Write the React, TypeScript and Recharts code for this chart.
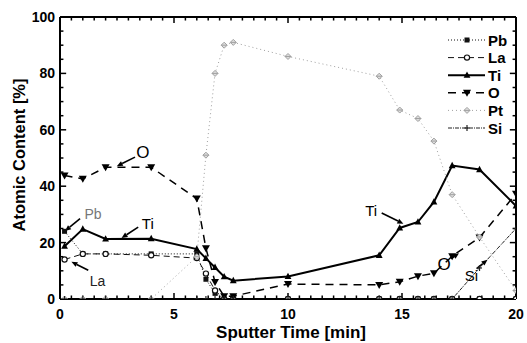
import {
  Label,
  Legend,
  Line,
  LineChart,
  ReferenceDot,
  ReferenceLine,
  XAxis,
  YAxis,
} from "recharts";

// sputter time [min] for every measured point
const TIME = [0.2, 1, 2, 4, 6, 6.4, 6.8, 7.2, 7.6, 10, 14, 14.9, 15.7, 16.4, 17.2, 18.4, 20];

// atomic content [%]
const PB = [24, 16, 16, 16, 16, 7, 2, 0, 0, 0, 0, 0, 0, 0, 0, 0, 0];
const LA = [14, 16, 16, 15.5, 14.5, 9, 3, 0, 0, 0, 0, 0, 0, 0, 0, 0, 0];
const TI = [18.7, 24.8, 21.3, 21.4, 17.7, 14.4, 11.2, 7.9, 6.5, 8, 15.5, 25.2, 27.3, 34.4, 47.3, 45.9, 33];
const OX = [43.8, 42.6, 46.7, 46.7, 35.6, 18, 6, 1, 1, 5.3, 5, 6.1, 8.1, 9.1, 15.2, 21.8, 37.3];
const PT = [0, 0, 0, 0, 15, 51, 80, 90, 91, 86, 79, 67, 64, 56, 37, 22, 3];
const SI = [0, 0, 0, 0, 0, 0, 0, 0, 0, 0, 0, 0, 0, 0, 0, 11, 25];

const X_MAJOR = [0, 5, 10, 15, 20];
const Y_MAJOR = [0, 20, 40, 60, 80, 100];
const X_MINOR = Array.from({ length: 41 }, (_, i) => i * 0.5);
const Y_MINOR = Array.from({ length: 21 }, (_, i) => i * 5);

// tick lengths in data units (about 6px / 3.5px on this plot)
const XT_MAJOR = 2.1;
const XT_MINOR = 1.25;
const YT_MAJOR = 0.27;
const YT_MINOR = 0.15;

const FONT = "'Liberation Sans', Arial, sans-serif";

const rows = (vals: number[]) => TIME.map((t, i) => ({ t, v: vals[i] }));

type Shape = "square" | "circle" | "up" | "down" | "diamond" | "plus";

const SERIES: {
  name: string;
  vals: number[];
  color: string;
  width: number;
  dash?: string;
  shape: Shape;
}[] = [
  { name: "Pb", vals: PB, color: "#111", width: 1, dash: "1 2", shape: "square" },
  { name: "La", vals: LA, color: "#111", width: 1, dash: "6 4", shape: "circle" },
  { name: "Ti", vals: TI, color: "#000", width: 2, shape: "up" },
  { name: "O", vals: OX, color: "#000", width: 1.5, dash: "8 6", shape: "down" },
  { name: "Pt", vals: PT, color: "#a0a0a0", width: 1, dash: "1 3", shape: "diamond" },
  { name: "Si", vals: SI, color: "#222", width: 1, dash: "4 1 1 1", shape: "plus" },
];

function Marker({ cx, cy, shape, color }: { cx: number; cy: number; shape: Shape; color: string }) {
  if (cx == null || cy == null) return null;
  switch (shape) {
    case "square":
      return <rect x={cx - 2.5} y={cy - 2.5} width={5} height={5} fill={color} />;
    case "circle":
      return <circle cx={cx} cy={cy} r={2.6} fill="#fff" stroke={color} strokeWidth={1.2} />;
    case "up":
      return <polygon points={`${cx},${cy - 3.8} ${cx - 3.4},${cy + 2.6} ${cx + 3.4},${cy + 2.6}`} fill={color} />;
    case "down":
      return <polygon points={`${cx},${cy + 4} ${cx - 4},${cy - 3} ${cx + 4},${cy - 3}`} fill={color} />;
    case "diamond":
      return (
        <g stroke={color} strokeWidth={1}>
          <polygon points={`${cx},${cy - 3} ${cx + 3},${cy} ${cx},${cy + 3} ${cx - 3},${cy}`} fill="#ddd" />
          <line x1={cx - 3} y1={cy} x2={cx + 3} y2={cy} />
        </g>
      );
    default:
      return (
        <g stroke={color} strokeWidth={1.2}>
          <line x1={cx - 2.5} y1={cy} x2={cx + 2.5} y2={cy} />
          <line x1={cx} y1={cy - 3} x2={cx} y2={cy + 3} />
        </g>
      );
  }
}

const makeLabel = (side: "bottom" | "left") => (p: any) => {
  const x = Number(p.x);
  const y = Number(p.y);
  return (
    <text
      x={side === "left" ? x - 5 : x}
      y={side === "left" ? y + 5 : y + 20}
      textAnchor={side === "left" ? "end" : "middle"}
      fontFamily={FONT}
      fontWeight="bold"
      fontSize={14}
      fill="#000"
    >
      {p.payload.value}
    </text>
  );
};

// box edges and inward ticks, all as plain data-space segments
type Seg = [[number, number], [number, number]];
const FRAME: Seg[] = [
  [[0, 0], [20, 0]],
  [[0, 100], [20, 100]],
  [[0, 0], [0, 100]],
  [[20, 0], [20, 100]],
];
const TICKS: Seg[] = [
  ...X_MINOR.flatMap((v): Seg[] => {
    const len = X_MAJOR.includes(v) ? XT_MAJOR : XT_MINOR;
    return [
      [[v, 0], [v, len]],
      [[v, 100], [v, 100 - len]],
    ];
  }),
  ...Y_MINOR.flatMap((v): Seg[] => {
    const len = Y_MAJOR.includes(v) ? YT_MAJOR : YT_MINOR;
    return [
      [[0, v], [len, v]],
      [[20, v], [20 - len, v]],
    ];
  }),
];

function Arrow(p: any) {
  const x1 = Number(p.x1);
  const y1 = Number(p.y1);
  const x2 = Number(p.x2);
  const y2 = Number(p.y2);
  const a = Math.atan2(y2 - y1, x2 - x1);
  const L = 6;
  const W = 2.6;
  const bx = x2 - L * Math.cos(a);
  const by = y2 - L * Math.sin(a);
  const nx = -Math.sin(a) * W;
  const ny = Math.cos(a) * W;
  return (
    <g>
      <line x1={x1} y1={y1} x2={bx} y2={by} stroke="#000" strokeWidth={1.6} />
      <polygon points={`${x2},${y2} ${bx + nx},${by + ny} ${bx - nx},${by - ny}`} fill="#000" />
    </g>
  );
}

const ARROWS = [
  { from: [3.29, 50.3], to: [2.49, 47.1] },
  { from: [0.88, 28.5], to: [0.22, 24.1] },
  { from: [3.43, 25.5], to: [2.7, 21.6] },
  { from: [1.24, 10.2], to: [0.5, 13.2] },
  { from: [14.11, 30.5], to: [15.06, 26.7] },
  { from: [17.15, 14.3], to: [17.5, 16.2] },
  { from: [18.27, 10.8], to: [18.75, 13.9] },
];

const NOTES = [
  { text: "O", at: [3.63, 52], size: 17, color: "#000" },
  { text: "Pb", at: [1.45, 30.3], size: 14, color: "#777" },
  { text: "Ti", at: [3.85, 26.7], size: 15, color: "#000" },
  { text: "La", at: [1.65, 6.5], size: 14, color: "#222" },
  { text: "Ti", at: [13.65, 31.4], size: 15, color: "#000" },
  { text: "O", at: [16.85, 12.6], size: 17, color: "#000" },
  { text: "Si", at: [18.05, 8.3], size: 15, color: "#000" },
];

function ChartLegend() {
  return (
    <svg width={72} height={108}>
      {SERIES.map((s, i) => {
        const cy = 8 + i * 17.6;
        return (
          <g key={s.name}>
            <line x1={2} y1={cy} x2={39} y2={cy} stroke={s.color} strokeWidth={s.width} strokeDasharray={s.dash} />
            <Marker cx={21} cy={cy} shape={s.shape} color={s.color} />
            <text x={42} y={cy + 5.5} fontFamily={FONT} fontWeight="bold" fontSize={15} fill="#000">
              {s.name}
            </text>
          </g>
        );
      })}
    </svg>
  );
}

export default function App() {
  return (
    <div style={{ position: "fixed", left: 0, top: 0, width: 527, height: 343, background: "#fff" }}>
      <LineChart width={527} height={343} margin={{ top: 17, right: 11, bottom: 0, left: 0 }}>
        <XAxis
          dataKey="t"
          type="number"
          domain={[0, 20]}
          ticks={X_MAJOR}
          interval={0}
          height={44}
          tickSize={0}
          tickMargin={0}
          tickLine={false}
          axisLine={false}
          tick={makeLabel("bottom")}
          allowDataOverflow
        >
          <Label
            content={() => (
              <text x={291} y={338} textAnchor="middle" fontFamily={FONT} fontWeight="bold" fontSize={17} fill="#000">
                Sputter Time [min]
              </text>
            )}
          />
        </XAxis>
        <YAxis
          type="number"
          domain={[0, 100]}
          ticks={Y_MAJOR}
          interval={0}
          width={60}
          tickSize={0}
          tickMargin={0}
          tickLine={false}
          axisLine={false}
          tick={makeLabel("left")}
          allowDataOverflow
        >
          <Label
            content={() => (
              <text
                x={19}
                y={155}
                transform="rotate(-90 19 155)"
                textAnchor="middle"
                dominantBaseline="central"
                fontFamily={FONT}
                fontWeight="bold"
                fontSize={16.5}
                fill="#000"
              >
                Atomic Content [%]
              </text>
            )}
          />
        </YAxis>
        <Legend
          layout="vertical"
          align="center"
          verticalAlign="middle"
          wrapperStyle={{ left: 446, top: 32, width: 72 }}
          content={() => <ChartLegend />}
        />
        {SERIES.map((s) => (
          <Line
            key={s.name}
            name={s.name}
            data={rows(s.vals)}
            dataKey="v"
            type="linear"
            stroke={s.color}
            strokeWidth={s.width}
            strokeDasharray={s.dash}
            dot={(p: any) => <Marker key={`${s.name}-${p.index}`} cx={p.cx} cy={p.cy} shape={s.shape} color={s.color} />}
            activeDot={false}
            isAnimationActive={false}
          />
        ))}
        {FRAME.map((s, i) => (
          <ReferenceLine
            key={`frame-${i}`}
            segment={[
              { x: s[0][0], y: s[0][1] },
              { x: s[1][0], y: s[1][1] },
            ]}
            stroke="#000"
            strokeWidth={2}
            ifOverflow="visible"
          />
        ))}
        {TICKS.map((s, i) => (
          <ReferenceLine
            key={`tick-${i}`}
            segment={[
              { x: s[0][0], y: s[0][1] },
              { x: s[1][0], y: s[1][1] },
            ]}
            stroke="#000"
            strokeWidth={1.5}
            ifOverflow="visible"
          />
        ))}
        {ARROWS.map((a, i) => (
          <ReferenceLine
            key={`arrow-${i}`}
            segment={[
              { x: a.from[0], y: a.from[1] },
              { x: a.to[0], y: a.to[1] },
            ]}
            shape={Arrow}
            ifOverflow="visible"
          />
        ))}
        {NOTES.map((n, i) => (
          <ReferenceDot
            key={`note-${i}`}
            x={n.at[0]}
            y={n.at[1]}
            r={0.01}
            fill="none"
            stroke="none"
            ifOverflow="visible"
            label={{
              value: n.text,
              position: "center",
              fill: n.color,
              fontSize: n.size,
              fontFamily: FONT,
            }}
          />
        ))}
      </LineChart>
    </div>
  );
}
